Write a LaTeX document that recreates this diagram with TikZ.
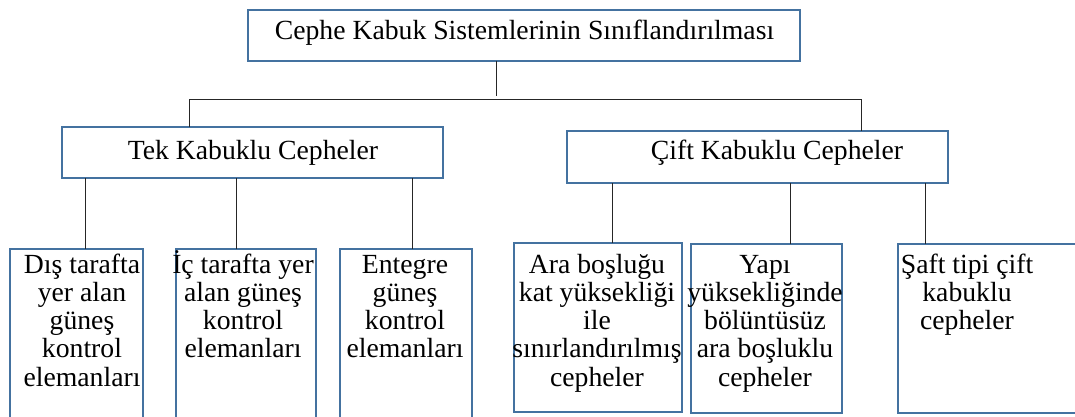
\documentclass[tikz,border=0pt]{standalone}
\usepackage{fontspec}
\setmainfont{Liberation Serif}
\begin{document}
\begin{tikzpicture}[x=1pt,y=-1pt,
  box/.style={draw=boxblue, line width=1.8pt, inner sep=0pt, outer sep=0pt, anchor=north west},
  txt/.style={inner sep=0pt, align=center, anchor=base, font=\fontsize{27.7}{28.3}\selectfont},
  conn/.style={draw=black!85, line width=1pt}]
\definecolor{boxblue}{RGB}{68,114,160}
\useasboundingbox (0,0) rectangle (1075,417);
\clip (0,0) rectangle (1075,417);

% frames
\node[box, minimum width=552pt, minimum height=51pt] (top)  at (248,10)  {};
\node[box, minimum width=381pt, minimum height=51pt] (tek)  at (62,127)  {};
\node[box, minimum width=381pt, minimum height=52pt] (cift) at (567,131) {};
\node[box, minimum width=133pt, minimum height=200pt] (b1) at (10,249)  {};
\node[box, minimum width=140pt, minimum height=200pt] (b2) at (176,249) {};
\node[box, minimum width=132pt, minimum height=200pt] (b3) at (340,249) {};
\node[box, minimum width=168pt, minimum height=169pt] (b4) at (514,243) {};
\node[box, minimum width=151pt, minimum height=169pt] (b5) at (691,244) {};
\node[box, minimum width=200pt, minimum height=169pt] (b6) at (898,244) {};

% labels (a multi-line label sits on the baseline of its last line;
% first lines share the baseline y = 273, line pitch 28.3)
\node[txt] (topt)  at (524.5,40) {Cephe Kabuk Sistemlerinin Sınıflandırılması};
\node[txt] (tekt)  at (253,159)  {Tek Kabuklu Cepheler};
\node[txt] (ciftt) at (777,159)  {Çift Kabuklu Cepheler};
\node[txt] (b1t) at (82,386.2)  {Dış tarafta\\yer alan\\güneş\\kontrol\\elemanları};
\node[txt] (b2t) at (243,357.9) {İç tarafta yer\\alan güneş\\kontrol\\elemanları};
\node[txt] (b3t) at (405,357.9) {Entegre\\güneş\\kontrol\\elemanları};
\node[txt] (b4t) at (597,386.2) {Ara boşluğu\\kat yüksekliği\\ile\\sınırlandırılmış\\cepheler};
\node[txt] (b5t) at (765,386.2) {Yapı\\yüksekliğinde\\bölüntüsüz\\ara boşluklu\\cepheler};
\node[txt] (b6t) at (967,329.6) {Şaft tipi çift\\kabuklu\\cepheler};

% branch positions (half-unit offsets keep the 1pt lines on whole pixels)
\coordinate (hub) at (496.5,99.5);
\coordinate (L)  at (189.5,0);
\coordinate (R)  at (861.5,0);
\coordinate (c1) at (85.5,0);
\coordinate (c2) at (236.5,0);
\coordinate (c3) at (412.5,0);
\coordinate (c4) at (612.5,0);
\coordinate (c5) at (790.5,0);
\coordinate (c6) at (925.5,0);

% connectors
\draw[conn] (top.south -| hub) -- ([yshift=3pt]hub);
\draw[conn] (tek.north -| L) |- (hub) -| (cift.north -| R);
\draw[conn] (tek.south -| c1) -- (b1.north -| c1);
\draw[conn] (tek.south -| c2) -- (b2.north -| c2);
\draw[conn] (tek.south -| c3) -- (b3.north -| c3);
\draw[conn] (cift.south -| c4) -- (b4.north -| c4);
\draw[conn] (cift.south -| c5) -- (b5.north -| c5);
\draw[conn] (cift.south -| c6) -- (b6.north -| c6);
\end{tikzpicture}
\end{document}
